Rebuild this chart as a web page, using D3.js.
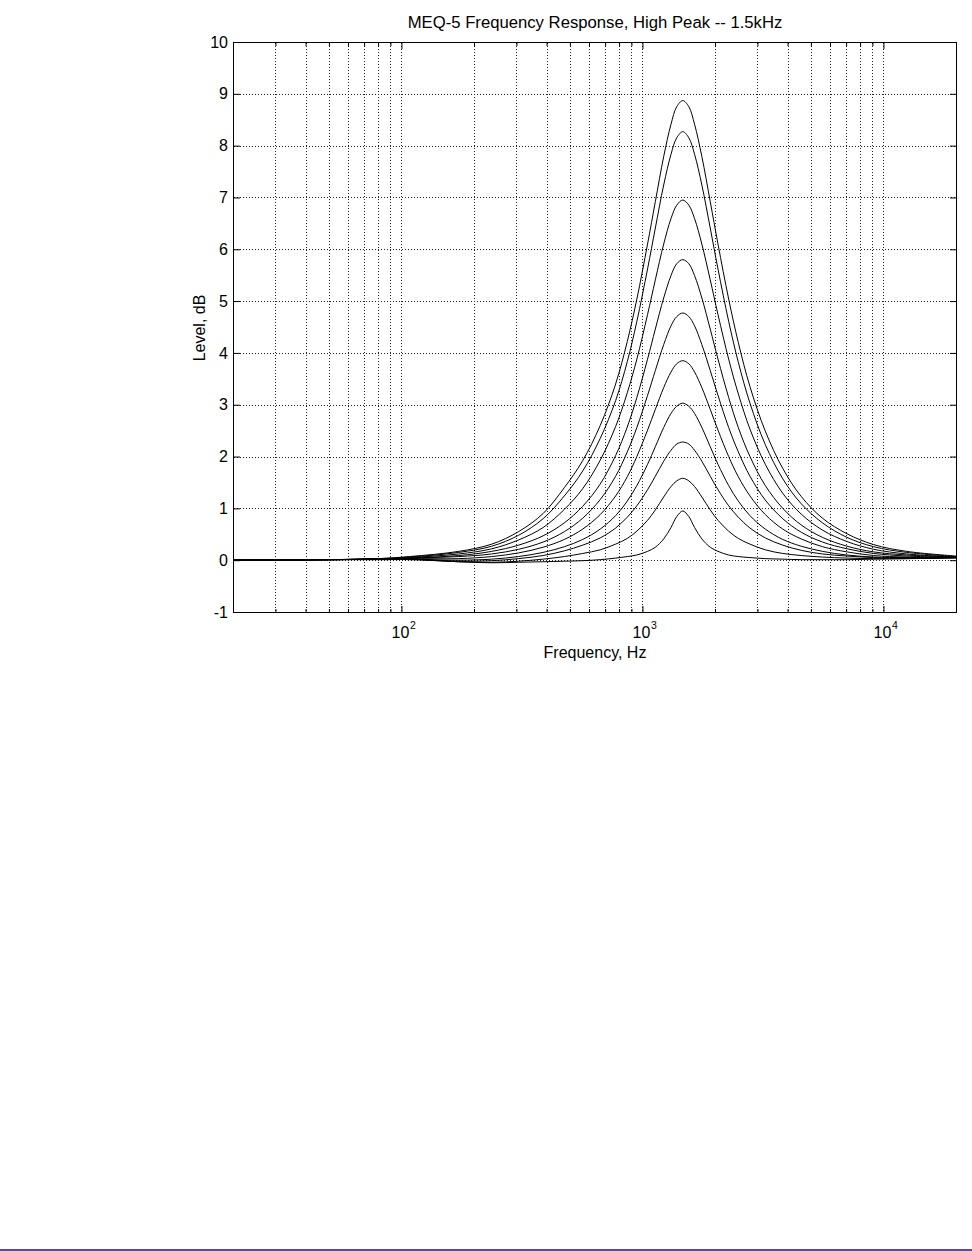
<!DOCTYPE html>
<html><head><meta charset="utf-8">
<script src="https://cdn.jsdelivr.net/npm/d3@7"></script>
<style>body{margin:0;background:#fff}svg{display:block}</style>
</head><body><svg id="c" width="972" height="1251"></svg>
<script>
const title = "MEQ-5 Frequency Response, High Peak -- 1.5kHz";
const xTitle = "Frequency, Hz";
const yTitle = "Level, dB";

const freqHz = [20, 50, 80, 108, 173, 237, 306, 387, 474, 565, 668, 774, 865, 948, 1050, 1131, 1225, 1313, 1387, 1470,
  1558, 1646, 1764, 1911, 2058, 2279, 2499, 2793, 3234, 3822, 4557, 5586, 7056, 9114, 12495, 20000];

const peak887 = [0, 0.01, 0.03, 0.07, 0.17, 0.31, 0.55, 0.90, 1.40, 1.92, 2.60, 3.40, 4.22, 5.04, 6.10, 6.92, 7.79, 8.41, 8.75, 8.87,
  8.75, 8.41, 7.79, 6.92, 6.10, 5.04, 4.20, 3.35, 2.49, 1.77, 1.23, 0.81, 0.51, 0.30, 0.17, 0.08];
const peak827 = [0, 0.01, 0.03, 0.06, 0.15, 0.27, 0.48, 0.80, 1.24, 1.72, 2.35, 3.08, 3.83, 4.61, 5.62, 6.41, 7.24, 7.83, 8.15, 8.27,
  8.15, 7.83, 7.24, 6.41, 5.62, 4.61, 3.82, 3.03, 2.23, 1.57, 1.09, 0.72, 0.44, 0.26, 0.15, 0.07];
const peak695 = [0, 0.01, 0.02, 0.05, 0.12, 0.22, 0.39, 0.63, 0.98, 1.38, 1.93, 2.58, 3.23, 3.88, 4.74, 5.41, 6.10, 6.59, 6.85, 6.95,
  6.85, 6.59, 6.10, 5.41, 4.74, 3.88, 3.21, 2.53, 1.85, 1.29, 0.89, 0.58, 0.36, 0.21, 0.12, 0.06];
const peak580 = [0, 0.01, 0.02, 0.04, 0.09, 0.17, 0.29, 0.47, 0.72, 1.04, 1.47, 2.02, 2.57, 3.14, 3.88, 4.46, 5.06, 5.49, 5.72, 5.80,
  5.72, 5.49, 5.06, 4.46, 3.88, 3.14, 2.56, 2.00, 1.44, 1.00, 0.68, 0.44, 0.27, 0.16, 0.10, 0.06];
const peak477 = [0, 0.01, 0.02, 0.04, 0.07, 0.12, 0.21, 0.35, 0.55, 0.81, 1.17, 1.62, 2.09, 2.56, 3.18, 3.66, 4.16, 4.52, 4.70, 4.77,
  4.70, 4.52, 4.16, 3.66, 3.18, 2.56, 2.09, 1.62, 1.16, 0.80, 0.54, 0.35, 0.22, 0.13, 0.08, 0.05];
const peak385 = [0, 0.01, 0.02, 0.03, 0.03, 0.07, 0.14, 0.25, 0.40, 0.60, 0.88, 1.24, 1.61, 2.00, 2.51, 2.91, 3.33, 3.63, 3.79, 3.85,
  3.79, 3.63, 3.33, 2.91, 2.51, 2.00, 1.61, 1.24, 0.88, 0.60, 0.41, 0.26, 0.16, 0.09, 0.06, 0.05];
const peak303 = [0, 0.01, 0.02, 0.02, 0.00, 0.02, 0.07, 0.15, 0.26, 0.40, 0.60, 0.86, 1.14, 1.44, 1.85, 2.19, 2.56, 2.83, 2.97, 3.03,
  2.97, 2.83, 2.56, 2.19, 1.85, 1.44, 1.14, 0.86, 0.60, 0.40, 0.27, 0.17, 0.10, 0.06, 0.05, 0.05];
const peak228 = [0, 0.01, 0.02, 0.02, -0.02, -0.01, 0.03, 0.09, 0.18, 0.29, 0.43, 0.62, 0.83, 1.05, 1.36, 1.62, 1.91, 2.12, 2.24, 2.28,
  2.24, 2.12, 1.91, 1.62, 1.36, 1.05, 0.83, 0.62, 0.43, 0.29, 0.19, 0.12, 0.08, 0.05, 0.04, 0.05];
const peak158 = [0, 0.01, 0.02, 0.02, -0.03, -0.04, -0.02, 0.02, 0.07, 0.13, 0.20, 0.31, 0.42, 0.56, 0.77, 0.97, 1.22, 1.42, 1.53, 1.58,
  1.53, 1.42, 1.22, 0.97, 0.77, 0.56, 0.42, 0.31, 0.20, 0.13, 0.09, 0.06, 0.04, 0.03, 0.03, 0.04];
const peak095 = [0, 0.01, 0.01, 0.01, -0.03, -0.05, -0.04, -0.03, -0.02, -0.01, 0.01, 0.04, 0.07, 0.10, 0.17, 0.25, 0.41, 0.63, 0.84, 0.95,
  0.84, 0.63, 0.41, 0.25, 0.17, 0.10, 0.07, 0.05, 0.03, 0.02, 0.01, 0.01, 0.01, 0.02, 0.03, 0.05];

const yTicks = [-1, 0, 1, 2, 3, 4, 5, 6, 7, 8, 9, 10];
const yTickLabels = ["-1", "0", "1", "2", "3", "4", "5", "6", "7", "8", "9", "10"];
const xMajorTicks = [100, 1000, 10000];
const xMajorExponents = ["2", "3", "4"];
const xMinorTicks = [20, 30, 40, 50, 60, 70, 80, 90, 200, 300, 400, 500, 600, 700, 800, 900,
  2000, 3000, 4000, 5000, 6000, 7000, 8000, 9000];

const series = [peak887, peak827, peak695, peak580, peak477, peak385, peak303, peak228, peak158, peak095];

const FONT = "Arimo, 'Liberation Sans', Arial, Helvetica, sans-serif";
const svg = d3.select("#c");
svg.append("rect").attr("width", 972).attr("height", 1251).attr("fill", "#fff");

const x = d3.scaleLog().domain([20, 20000]).range([233, 956]);
const y = d3.scaleLinear().domain([-1, 10]).range([612, 42]);

// grid
const grid = svg.append("g").attr("stroke", "#222").attr("stroke-width", 1).attr("stroke-dasharray", "1,2");
grid.selectAll("line.h").data(yTicks.filter(d => d > -1 && d < 10)).join("line")
  .attr("x1", 234).attr("x2", 956).attr("y1", d => Math.round(y(d)) + 0.5).attr("y2", d => Math.round(y(d)) + 0.5);
grid.selectAll("line.v").data(xMinorTicks.concat(xMajorTicks).filter(d => d > 20)).join("line")
  .attr("y1", 43).attr("y2", 612).attr("x1", d => Math.round(x(d)) + 0.5).attr("x2", d => Math.round(x(d)) + 0.5);

// curves
const line = d3.line().x(d => x(d[0])).y(d => y(d[1])).curve(d3.curveCatmullRom.alpha(0.5));
svg.append("g").selectAll("path").data(series).join("path")
  .attr("d", s => line(freqHz.map((f, i) => [f, s[i]])))
  .attr("fill", "none").attr("stroke", "#000").attr("stroke-width", 1);

// box
svg.append("rect").attr("x", 233.5).attr("y", 42.5).attr("width", 723).attr("height", 570)
  .attr("fill", "none").attr("stroke", "#000").attr("stroke-width", 1);

function styleAxis(g) {
  g.select(".domain").remove();
  g.selectAll(".tick line").attr("stroke", "#000");
  g.attr("font-family", FONT).attr("font-size", 16);
  g.selectAll(".tick text").attr("fill", "#000");
}
// y axes
svg.append("g").attr("transform", "translate(233,0)")
  .call(d3.axisLeft(y).tickValues(yTicks).tickSize(-7).tickPadding(5)
    .tickFormat((d, i) => yTickLabels[i])).call(styleAxis);
svg.append("g").attr("transform", "translate(957,0)")
  .call(d3.axisRight(y).tickValues(yTicks).tickSize(-7).tickFormat("")).call(styleAxis);
// x axes
svg.append("g").attr("transform", "translate(0,613)")
  .call(d3.axisBottom(x).tickValues(xMinorTicks).tickSize(-4).tickFormat("")).call(styleAxis);
svg.append("g").attr("transform", "translate(0,613)")
  .call(d3.axisBottom(x).tickValues(xMajorTicks).tickSize(-7).tickFormat("")).call(styleAxis);
svg.append("g").attr("transform", "translate(0,42)")
  .call(d3.axisTop(x).tickValues(xMinorTicks).tickSize(-4).tickFormat("")).call(styleAxis);
svg.append("g").attr("transform", "translate(0,42)")
  .call(d3.axisTop(x).tickValues(xMajorTicks).tickSize(-7).tickFormat("")).call(styleAxis);

// x major labels 10^n
const xl = svg.append("g").attr("font-family", FONT).attr("fill", "#000");
xl.selectAll("text.base").data(xMajorTicks).join("text")
  .attr("x", d => x(d) - 1).attr("y", 638).attr("text-anchor", "middle").attr("font-size", 16).text("10");
xl.selectAll("text.exp").data(xMajorTicks).join("text")
  .attr("x", d => x(d) + 8.5).attr("y", 629).attr("font-size", 10.5)
  .text((d, i) => xMajorExponents[i]);

// titles
svg.append("text").attr("x", 595).attr("y", 28).attr("text-anchor", "middle")
  .attr("font-family", FONT).attr("font-size", 16.7).text(title);
svg.append("text").attr("x", 595).attr("y", 658).attr("text-anchor", "middle")
  .attr("font-family", FONT).attr("font-size", 16).text(xTitle);
svg.append("text").attr("transform", "translate(205,328) rotate(-90)").attr("text-anchor", "middle")
  .attr("font-family", FONT).attr("font-size", 16).text(yTitle);

// bottom page rule
svg.append("rect").attr("x", 0).attr("y", 1249).attr("width", 972).attr("height", 2).attr("fill", "#654a8a");
</script></body></html>
